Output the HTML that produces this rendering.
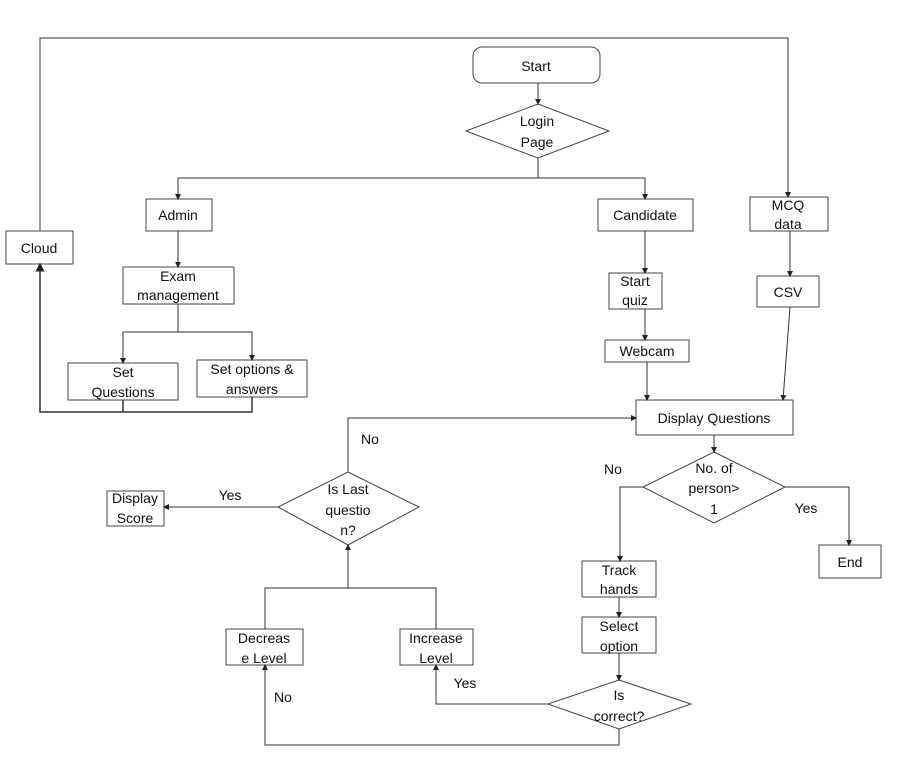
<!DOCTYPE html>
<html><head><style>html,body{margin:0;padding:0;background:#fff}svg{display:block}text{font-family:"Liberation Sans",sans-serif;font-size:14px;fill:#111;text-anchor:middle}</style></head><body>
<svg width="918" height="778" viewBox="0 0 918 778" xmlns="http://www.w3.org/2000/svg">
<defs><marker id="a" markerWidth="6" markerHeight="6" refX="5" refY="3" orient="auto"><path d="M0,0 L6,3 L0,6 z" fill="#222"/></marker></defs>
<g fill="none" stroke="#444" stroke-width="1">
<rect x="473" y="47" width="127" height="36" rx="9"/>
<path d="M538,104 L609,131 L538,158 L466,131 Z"/>
<rect x="146" y="199" width="66" height="32"/>
<rect x="598" y="199" width="95" height="32"/>
<rect x="750" y="197" width="78" height="34"/>
<rect x="6" y="231" width="67" height="33"/>
<rect x="123" y="267" width="111" height="37"/>
<rect x="68" y="363" width="110" height="37"/>
<rect x="197" y="360" width="110" height="37"/>
<rect x="609" y="273" width="53" height="36"/>
<rect x="757" y="276" width="62" height="31"/>
<rect x="605" y="340" width="84" height="22"/>
<rect x="636" y="400" width="157" height="35"/>
<path d="M714,452 L785,487 L714,523 L643,487 Z"/>
<rect x="582" y="561" width="74" height="36"/>
<rect x="819" y="545" width="62" height="33"/>
<rect x="582" y="617" width="74" height="36"/>
<path d="M619,680 L691,704 L619,729 L548,704 Z"/>
<rect x="226" y="629" width="77" height="36"/>
<rect x="400" y="629" width="73" height="36"/>
<path d="M348,472 L419,507 L348,545 L278,507 Z"/>
<rect x="107" y="491" width="57" height="35"/>
</g>
<g fill="none" stroke="#333" stroke-width="1">
<path d="M538,83 V104" marker-end="url(#a)"/>
<path d="M538,158 V178 H178 V199" marker-end="url(#a)"/>
<path d="M538,178 H645 V199" marker-end="url(#a)"/>
<path d="M40,231 V38 H788 V197" marker-end="url(#a)"/>
<path d="M178,231 V267" marker-end="url(#a)"/>
<path d="M178,304 V332 H123 V363" marker-end="url(#a)"/>
<path d="M178,332 H252 V360" marker-end="url(#a)"/>
<path d="M123,400 V412 M252,397 V412 H40 V264" stroke-width="1.5" marker-end="url(#a)"/>
<path d="M645,231 V273" marker-end="url(#a)"/>
<path d="M645,309 V340" marker-end="url(#a)"/>
<path d="M647,362 V400" marker-end="url(#a)"/>
<path d="M790,231 V276" marker-end="url(#a)"/>
<path d="M790,307 L783,400" marker-end="url(#a)"/>
<path d="M714,435 V452" marker-end="url(#a)"/>
<path d="M643,487 H620 V561" marker-end="url(#a)"/>
<path d="M785,487 H849 V545" marker-end="url(#a)"/>
<path d="M619,597 V617" marker-end="url(#a)"/>
<path d="M619,653 V680" marker-end="url(#a)"/>
<path d="M619,729 V745 H265 V665" marker-end="url(#a)"/>
<path d="M548,704 H436 V665" marker-end="url(#a)"/>
<path d="M265,629 V588 H436 V629 M348,588 V545" marker-end="url(#a)"/>
<path d="M348,472 V418 H636" marker-end="url(#a)"/>
<path d="M278,507 H164" marker-end="url(#a)"/>
</g>
<text x="536" y="71">Start</text>
<text x="537" y="126">Login</text><text x="537" y="147">Page</text>
<text x="178" y="220">Admin</text>
<text x="645" y="220">Candidate</text>
<text x="788" y="210">MCQ</text><text x="788" y="229">data</text>
<text x="39" y="253">Cloud</text>
<text x="178" y="281">Exam</text><text x="178" y="300">management</text>
<text x="123" y="377">Set</text><text x="123" y="397">Questions</text>
<text x="252" y="374">Set options &amp;</text><text x="252" y="394">answers</text>
<text x="635" y="286">Start</text><text x="635" y="305">quiz</text>
<text x="788" y="297">CSV</text>
<text x="647" y="356">Webcam</text>
<text x="714" y="423">Display Questions</text>
<text x="714" y="473">No. of</text><text x="714" y="493">person&gt;</text><text x="714" y="514">1</text>
<text x="613" y="474">No</text>
<text x="806" y="513">Yes</text>
<text x="619" y="575">Track</text><text x="619" y="594">hands</text>
<text x="850" y="567">End</text>
<text x="619" y="631">Select</text><text x="619" y="651">option</text>
<text x="619" y="700">Is</text><text x="619" y="721">correct?</text>
<text x="264" y="643">Decreas</text><text x="264" y="663">e Level</text>
<text x="436" y="643">Increase</text><text x="436" y="663">Level</text>
<text x="465" y="688">Yes</text>
<text x="283" y="702">No</text>
<text x="348" y="494">Is Last</text><text x="348" y="515">questio</text><text x="348" y="535">n?</text>
<text x="370" y="444">No</text>
<text x="230" y="500">Yes</text>
<text x="135" y="503">Display</text><text x="135" y="523">Score</text>
</svg>
</body></html>
